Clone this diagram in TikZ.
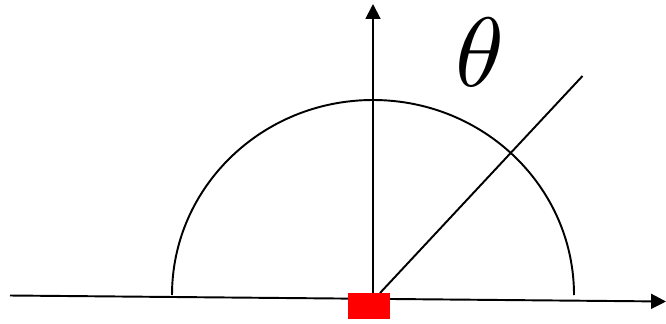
\documentclass[tikz,border=0pt]{standalone}
\usepackage{tikz}
\usetikzlibrary{arrows.meta}

\begin{document}
\begin{tikzpicture}[x=1cm,y=1cm,>={Triangle[length=8.5pt,width=8.5pt]},line width=1.1pt]
\useasboundingbox (0,0) rectangle (13.32,6.46);
% axes (horizontal one slightly tilted, as in the sketch)
\coordinate (O) at (7.46,0.56);
\coordinate (L) at (0.2,0.55); \coordinate (R) at (13.32,0.43);
\coordinate (T) at (7.46,6.38);
\draw[->] (L) -- (R);
\draw[->] (O) -- (T);
% half circle around the source
\draw (O) ++(4.02,0) arc[start angle=0,end angle=180,x radius=4.02,y radius=3.9];
% direction at angle theta
\coordinate (D0) at (7.6,0.6); \coordinate (D1) at (11.65,4.94);
\draw (D0) -- (D1);
\node[scale=5.6] (th) at (9.6,5.42) {$\theta$};
% source
\fill[red] (6.96,0.08) rectangle (7.8,0.6);
\end{tikzpicture}
\end{document}
